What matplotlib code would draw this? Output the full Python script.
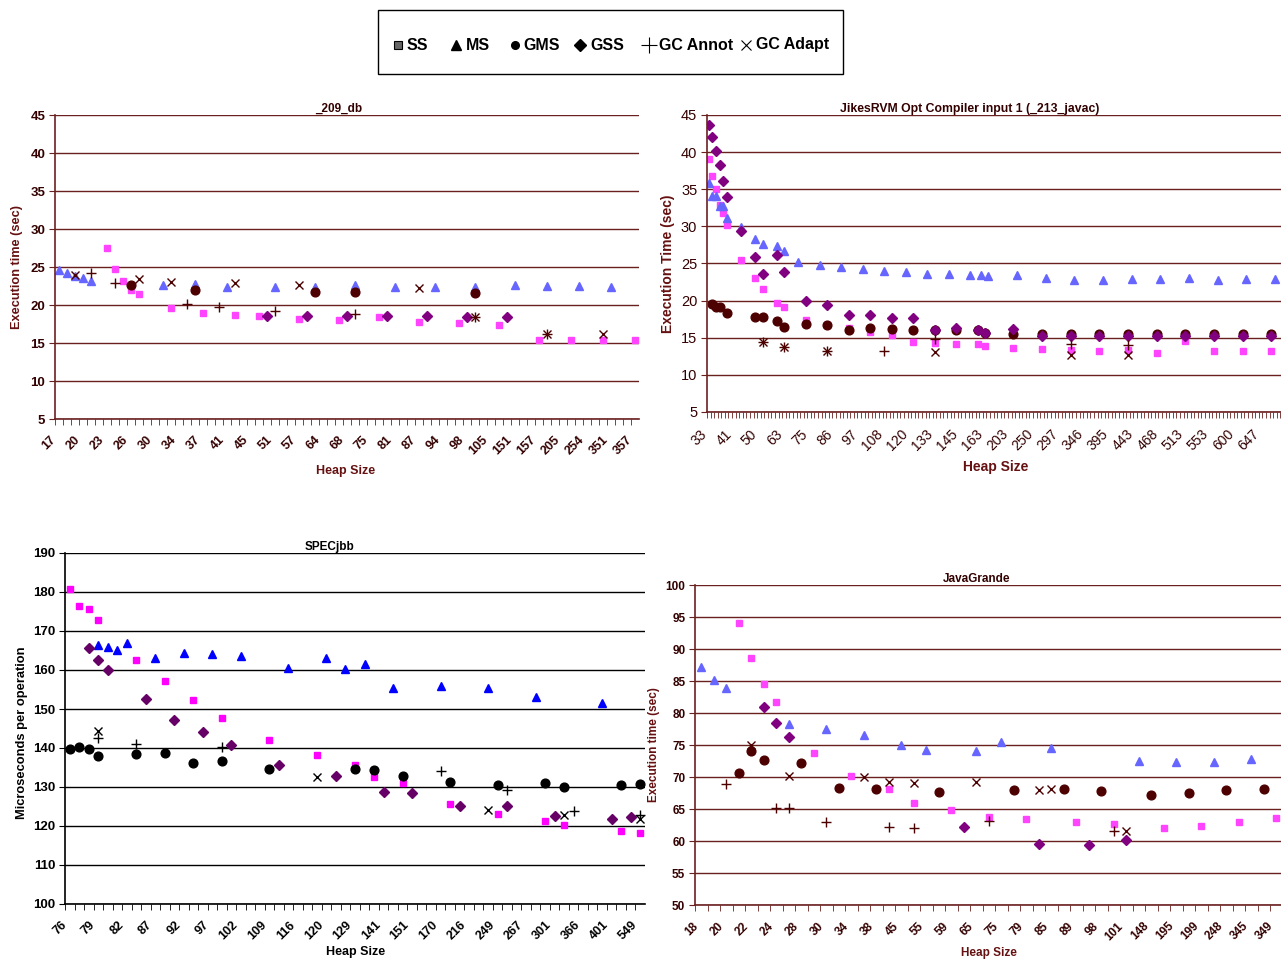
import numpy as np
import matplotlib.pyplot as plt
from matplotlib.patches import Rectangle
from matplotlib.transforms import ScaledTranslation

plt.rcParams['font.family'] = ['Liberation Sans', 'DejaVu Sans']

W, H = 1281, 959

# ---------------- _209_db ----------------
db_labels = ['17', '20', '23', '26', '30', '34', '37', '41', '45', '51', '57', '64', '68',
             '75', '81', '87', '94', '98', '105', '151', '157', '205', '254', '351', '357']
db_ss_x = [6, 7, 8, 9, 10, 14, 18, 22, 25, 30, 35, 40, 45, 50, 55, 60, 64, 68, 72]
db_ss_y = [27.5, 24.7, 23.2, 22.0, 21.4, 19.6, 18.9, 18.7, 18.5, 18.2, 18.0, 18.4, 17.8,
           17.65, 17.4, 15.4, 15.4, 15.4, 15.4]
db_ms_x = [0, 1, 2, 3, 4, 13, 17, 21, 27, 32, 37, 42, 47, 52, 57, 61, 65, 69]
db_ms_y = [24.6, 24.15, 23.8, 23.6, 23.2, 22.6, 22.7, 22.4, 22.4, 22.4, 22.6, 22.4, 22.4,
           22.4, 22.6, 22.5, 22.5, 22.4]
db_gms_x = [9, 17, 32, 37, 52]
db_gms_y = [22.6, 22.0, 21.7, 21.7, 21.55]
db_gss_x = [26, 31, 36, 41, 46, 51, 56]
db_gss_y = [18.5, 18.5, 18.5, 18.5, 18.6, 18.45, 18.45]
db_annot_x = [4, 7, 16, 20, 27, 37, 52, 61]
db_annot_y = [24.2, 22.9, 20.15, 19.75, 19.2, 18.85, 18.45, 16.2]
db_adapt_x = [2, 10, 14, 22, 30, 45, 52, 61, 68]
db_adapt_y = [23.9, 23.4, 23.0, 22.9, 22.65, 22.3, 18.45, 16.2, 16.2]

# ---------------- JikesRVM _213_javac ----------------
jk_labels = ['33', '41', '50', '63', '75', '86', '97', '108', '120', '133', '145', '163',
             '203', '250', '297', '346', '395', '443', '468', '513', '553', '600', '647']
jk_ss_x = [0, 1, 2, 3, 4, 5, 9, 13, 15, 19, 21, 27, 33, 39, 45, 51, 57, 63, 69, 75, 77,
           85, 93, 101, 109, 117, 125, 133, 141, 149, 157]
jk_ss_y = [39.1, 36.8, 35.0, 32.9, 31.8, 30.2, 25.45, 23.05, 21.5, 19.7, 19.1, 17.4, 16.75,
           16.3, 15.8, 15.35, 14.45, 14.3, 14.2, 14.1, 13.9, 13.6, 13.45, 13.4, 13.2, 13.3,
           13.0, 14.5, 13.2, 13.15, 13.15]
jk_ms_x = [0, 1, 2, 3, 4, 5, 9, 13, 15, 19, 21, 25, 31, 37, 43, 49, 55, 61, 67, 73, 76, 78,
           86, 94, 102, 110, 118, 126, 134, 142, 150, 158]
jk_ms_y = [35.9, 34.1, 34.1, 32.7, 32.8, 31.1, 29.9, 28.3, 27.6, 27.4, 26.75, 25.25, 24.8,
           24.55, 24.3, 24.05, 23.8, 23.6, 23.6, 23.45, 23.5, 23.3, 23.4, 23.0, 22.8, 22.75,
           22.85, 22.9, 23.0, 22.75, 22.9, 22.9]
jk_gms_x = [1, 2, 3, 5, 13, 15, 19, 21, 27, 33, 39, 45, 51, 57, 63, 69, 75, 77, 85, 93, 101,
            109, 117, 125, 133, 141, 149, 157]
jk_gms_y = [19.6, 19.2, 19.15, 18.4, 17.8, 17.8, 17.2, 16.5, 16.9, 16.7, 16.0, 16.35, 16.2,
            16.0, 16.1, 16.0, 16.0, 15.6, 15.55, 15.5, 15.5, 15.5, 15.5, 15.5, 15.5, 15.5,
            15.5, 15.5]
jk_gss_x = [0, 1, 2, 3, 4, 5, 9, 13, 15, 19, 21, 27, 33, 39, 45, 51, 57, 63, 69, 75, 77,
            85, 93, 101, 109, 117, 125, 133, 141, 149, 157]
jk_gss_y = [43.6, 42.0, 40.2, 38.2, 36.1, 34.0, 29.4, 25.85, 23.6, 26.2, 23.8, 20.0, 19.4,
            18.0, 18.05, 17.7, 17.65, 16.0, 16.3, 16.05, 15.6, 16.2, 15.3, 15.3, 15.3, 15.3,
            15.3, 15.3, 15.3, 15.3, 15.3]
jk_annot_x = [15, 21, 33, 49, 63, 101, 117]
jk_annot_y = [14.45, 13.8, 13.2, 13.15, 14.8, 14.1, 14.0]
jk_adapt_x = [15, 21, 33, 63, 101, 117]
jk_adapt_y = [14.45, 13.8, 13.2, 13.1, 12.7, 12.7]

# ---------------- SPECjbb ----------------
sj_labels = ['76', '79', '82', '87', '92', '97', '102', '109', '116', '120', '129', '141',
             '151', '170', '216', '249', '267', '301', '366', '401', '549']
sj_ss_x = [0, 1, 2, 3, 7, 10, 13, 16, 21, 26, 30, 32, 35, 40, 45, 50, 52, 58, 60]
sj_ss_y = [180.8, 176.5, 175.6, 172.8, 162.6, 157.1, 152.4, 147.8, 142.0, 138.1, 135.6,
           132.6, 131.0, 125.7, 123.1, 121.4, 120.3, 118.8, 118.1]
sj_ms_x = [3, 4, 5, 6, 9, 12, 15, 18, 23, 27, 29, 31, 34, 39, 44, 49, 56]
sj_ms_y = [166.4, 166.0, 165.0, 166.8, 163.2, 164.4, 164.0, 163.6, 160.4, 163.0, 160.2,
           161.5, 155.4, 155.8, 155.3, 153.1, 151.5]
sj_gms_x = [0, 1, 2, 3, 7, 10, 13, 16, 21, 30, 32, 35, 40, 45, 50, 52, 58, 60]
sj_gms_y = [139.7, 140.3, 139.7, 137.9, 138.5, 138.6, 136.2, 136.6, 134.7, 134.6, 134.3,
            132.7, 131.2, 130.4, 131.0, 129.9, 130.4, 130.8]
sj_gss_x = [2, 3, 4, 8, 11, 14, 17, 22, 28, 33, 36, 41, 46, 51, 57, 59]
sj_gss_y = [165.6, 162.6, 160.1, 152.6, 147.3, 144.0, 140.7, 135.6, 132.9, 128.7, 128.5,
            125.2, 125.2, 122.6, 121.7, 122.2]
sj_annot_x = [3, 7, 16, 39, 46, 53, 60]
sj_annot_y = [142.6, 141.1, 140.3, 134.1, 129.3, 123.9, 122.9]
sj_adapt_x = [3, 26, 44, 52, 60]
sj_adapt_y = [144.4, 132.6, 124.1, 122.9, 121.7]

# ---------------- JavaGrande ----------------
jg_labels = ['18', '20', '22', '24', '28', '30', '34', '38', '45', '55', '59', '65', '75',
             '79', '85', '89', '98', '101', '148', '195', '199', '248', '345', '349']
jg_ss_x = [3, 4, 5, 6, 9, 12, 15, 17, 20, 23, 26, 30, 33, 37, 40, 43, 46]
jg_ss_y = [94.1, 88.6, 84.5, 81.7, 73.75, 70.2, 68.1, 65.9, 64.8, 63.8, 63.5, 62.9, 62.7,
           62.0, 62.3, 62.9, 63.6]
jg_ms_x = [0, 1, 2, 7, 10, 13, 16, 18, 22, 24, 28, 35, 38, 41, 44]
jg_ms_y = [87.2, 85.2, 83.9, 78.3, 77.5, 76.6, 75.05, 74.2, 74.1, 75.4, 74.5, 72.5, 72.3,
           72.3, 72.8]
jg_gms_x = [3, 4, 5, 8, 11, 14, 19, 25, 29, 32, 36, 39, 42, 45]
jg_gms_y = [70.6, 74.1, 72.6, 72.2, 68.3, 68.1, 67.6, 67.9, 68.1, 67.8, 67.2, 67.5, 68.0, 68.1]
jg_gss_x = [5, 6, 7, 21, 27, 31, 34]
jg_gss_y = [81.0, 78.4, 76.25, 62.2, 59.5, 59.3, 60.2]
jg_annot_x = [2, 6, 7, 10, 15, 17, 23, 33]
jg_annot_y = [68.9, 65.1, 65.1, 63.0, 62.2, 62.0, 63.1, 61.6]
jg_adapt_x = [4, 7, 13, 15, 17, 22, 27, 28, 34]
jg_adapt_y = [75.0, 70.2, 69.95, 69.2, 69.0, 69.2, 68.0, 68.2, 61.5]

legend_names = ['SS', 'MS', 'GMS', 'GSS', 'GC Annot', 'GC Adapt']

MAROON = '#4d0000'
GRIDM = '#6b2020'


def pos(l, t, r, b):
    return [l / W, 1 - b / H, (r - l) / W, (b - t) / H]


def panel(rect, xmax, ylim, ystep, labels, step, data, cols, grid_c, txt_c,
          title, tx, tick_w='bold', tick_fs=9.5, xtick_fs=9, title_fs=8.5):
    ax = fig.add_axes(rect)
    ss, ms, gms, gss, an, ad = data
    c_ss, c_ms, c_gms, c_gss, c_pl = cols
    ax.plot(ss[0], ss[1], ls='none', marker='s', ms=5, color=c_ss, mec=c_ss)
    ax.plot(ms[0], ms[1], ls='none', marker='^', ms=5.5, color=c_ms, mec=c_ms)
    ax.plot(gms[0], gms[1], ls='none', marker='o', ms=6.3, color=c_gms, mec=c_gms)
    ax.plot(gss[0], gss[1], ls='none', marker='D', ms=4.7, color=c_gss, mec=c_gss)
    ax.plot(an[0], an[1], ls='none', marker='+', ms=7, mew=1, color=c_pl)
    ax.plot(ad[0], ad[1], ls='none', marker='x', ms=5.5, mew=1, color=c_pl)
    ax.set_xlim(-0.5, xmax)
    ax.set_ylim(*ylim)
    ax.set_yticks(np.arange(ylim[0], ylim[1] + 0.1, ystep))
    ax.yaxis.grid(True, color=grid_c, lw=1)
    ax.set_axisbelow(True)
    for s in ['top', 'right']:
        ax.spines[s].set_visible(False)
    for s in ['left', 'bottom']:
        ax.spines[s].set_color(grid_c)
        ax.spines[s].set_linewidth(1.2)
    ax.set_xticks(np.arange(0, len(labels) * step, step))
    ax.set_xticklabels(labels, rotation=45, ha='right', rotation_mode='anchor',
                       fontsize=xtick_fs, fontweight=tick_w, color=txt_c)
    ax.set_xticks(np.arange(-0.5, xmax, 1), minor=True)
    ax.tick_params(axis='x', which='major', length=0, pad=8)
    ax.tick_params(axis='x', which='minor', length=4, color=grid_c)
    ax.tick_params(axis='y', length=4, color=grid_c, pad=3)
    off = ScaledTranslation(-9 / 100, -4 / 100, fig.dpi_scale_trans)
    for t in ax.get_xticklabels():
        t.set_transform(t.get_transform() + off)
    for t in ax.get_yticklabels():
        t.set_fontsize(tick_fs)
        t.set_fontweight(tick_w)
        t.set_color(txt_c)
    ax.text(tx, 1.0, title, transform=ax.transAxes, ha='center', va='bottom',
            fontsize=title_fs, fontweight='bold', color=txt_c)
    return ax


fig = plt.figure(figsize=(W / 100, H / 100), dpi=100)

cols_top = ['#ff44ff', '#6666ff', MAROON, '#800080', MAROON]
cols_sj = ['#ff00ff', '#0000ff', '#000000', '#660066', '#000000']
LAB = '#661111'

ax1 = panel(pos(55, 115, 639, 419), 72.5, (5, 45), 5, db_labels, 3,
            [(db_ss_x, db_ss_y), (db_ms_x, db_ms_y), (db_gms_x, db_gms_y),
             (db_gss_x, db_gss_y), (db_annot_x, db_annot_y), (db_adapt_x, db_adapt_y)],
            cols_top, GRIDM, '#330000', '_209_db', 0.485)
fig.text(17 / W, 1 - 267 / H, 'Execution time (sec)', rotation=90, ha='center', va='center',
         fontsize=9.2, fontweight='bold', color=LAB)
fig.text(346 / W, 1 - 471 / H, 'Heap Size', ha='center', va='center',
         fontsize=9, fontweight='bold', color=LAB)

ax2 = panel(pos(707, 115, 1281, 412), 159.7, (5, 45), 5, jk_labels, 7,
            [(jk_ss_x, jk_ss_y), (jk_ms_x, jk_ms_y), (jk_gms_x, jk_gms_y),
             (jk_gss_x, jk_gss_y), (jk_annot_x, jk_annot_y), (jk_adapt_x, jk_adapt_y)],
            cols_top, GRIDM, '#330000', 'JikesRVM Opt Compiler input 1 (_213_javac)', 0.458,
            tick_w='normal', tick_fs=10.5, xtick_fs=10, title_fs=8.8)
fig.text(668 / W, 1 - 264 / H, 'Execution Time (sec)', rotation=90, ha='center', va='center',
         fontsize=10, fontweight='bold', color=LAB)
fig.text(996 / W, 1 - 467 / H, 'Heap Size', ha='center', va='center',
         fontsize=10, fontweight='bold', color=LAB)

ax3 = panel(pos(65, 553, 645, 904), 60.5, (100, 190), 10, sj_labels, 3,
            [(sj_ss_x, sj_ss_y), (sj_ms_x, sj_ms_y), (sj_gms_x, sj_gms_y),
             (sj_gss_x, sj_gss_y), (sj_annot_x, sj_annot_y), (sj_adapt_x, sj_adapt_y)],
            cols_sj, '#000000', '#000000', 'SPECjbb', 0.456)
fig.text(22 / W, 1 - 733 / H, 'Microseconds per operation', rotation=90, ha='center',
         va='center', fontsize=9.3, fontweight='bold', color='black')
fig.text(356 / W, 1 - 952 / H, 'Heap Size', ha='center', va='center',
         fontsize=9, fontweight='bold', color='black')

ax4 = panel(pos(695, 585, 1281, 905), 46.37, (50, 100), 5, jg_labels, 2,
            [(jg_ss_x, jg_ss_y), (jg_ms_x, jg_ms_y), (jg_gms_x, jg_gms_y),
             (jg_gss_x, jg_gss_y), (jg_annot_x, jg_annot_y), (jg_adapt_x, jg_adapt_y)],
            cols_top, GRIDM, '#330000', 'JavaGrande', 0.48, tick_fs=8.5, xtick_fs=8.5)
fig.text(654 / W, 1 - 745 / H, 'Execution time (sec)', rotation=90, ha='center', va='center',
         fontsize=8.5, fontweight='bold', color=LAB)
fig.text(989 / W, 1 - 953 / H, 'Heap Size', ha='center', va='center',
         fontsize=8.5, fontweight='bold', color=LAB)

# legend, drawn by hand in figure pixels
lg = fig.add_axes([0, 0, 1, 1])
lg.set_xlim(0, W)
lg.set_ylim(H, 0)
lg.axis('off')
lg.add_patch(Rectangle((378, 10), 465, 64, fill=False, edgecolor='black', lw=1))
mk_x = [398, 456, 515, 580, 649, 746]
tx_x = [407, 466, 523, 590, 659, 756]
mk_style = [dict(marker='s', ms=6, color='#666666', mec='black', mew=0.8),
            dict(marker='^', ms=7.5, color='black'),
            dict(marker='o', ms=5.5, color='black'),
            dict(marker='D', ms=6.5, color='black'),
            dict(marker='+', ms=11, mew=0.8, color='black'),
            dict(marker='x', ms=6.5, mew=0.8, color='black')]
for mx, txx, st, nm in zip(mk_x, tx_x, mk_style, legend_names):
    lg.plot([mx], [45], ls='none', **st)
    lg.text(txx, 45, nm, ha='left', va='center', fontsize=11.5, fontweight='bold')

fig.savefig('out.png', dpi=100)
